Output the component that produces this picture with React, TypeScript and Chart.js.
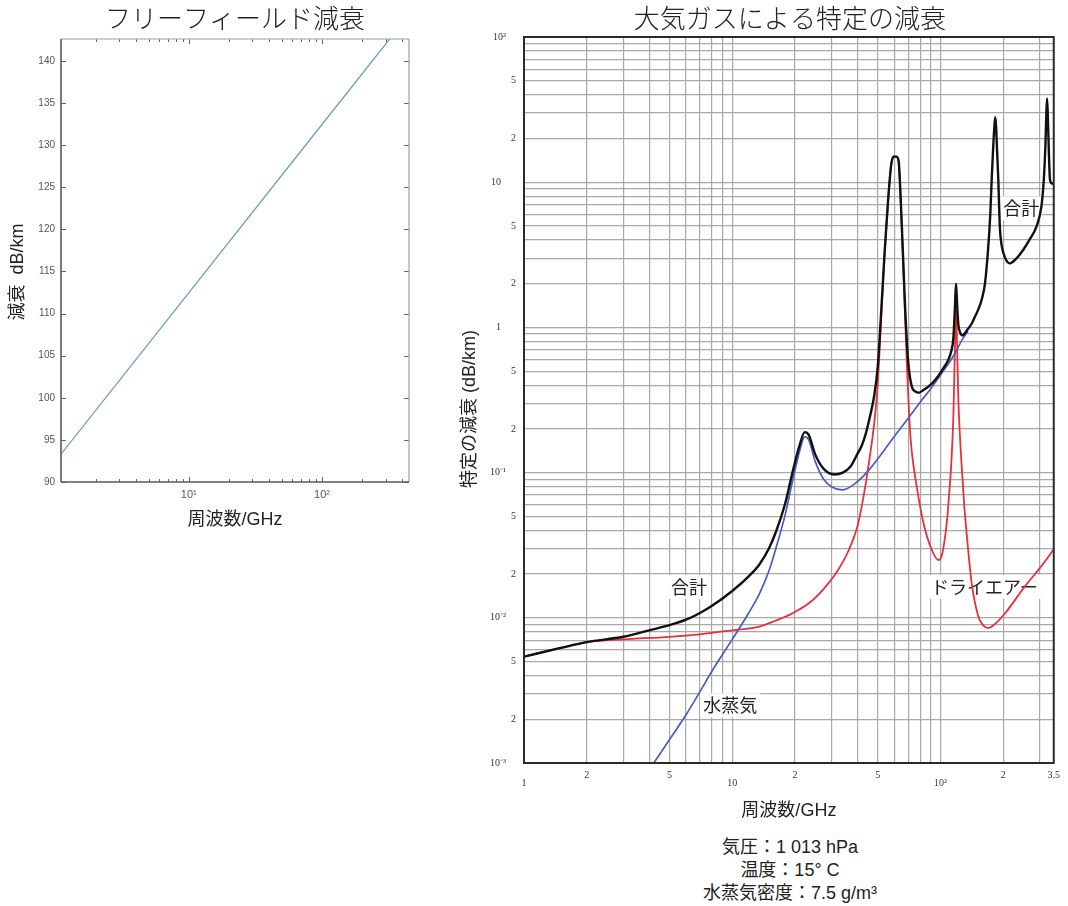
import React, { useEffect, useRef } from "react";
import { Chart, registerables } from "chart.js";
Chart.register(...registerables);

// ---------- Left chart: free-field attenuation ----------
const freeFreqGHz = [1.1, 10, 100, 330];
const freeLossDb = [93.3, 112.45, 132.45, 142.8];
const freeYTicks = [90, 95, 100, 105, 110, 115, 120, 125, 130, 135, 140];
const freeXTicks = [2, 3, 4, 5, 6, 7, 8, 9, 10, 20, 30, 40, 50, 60, 70, 80, 90, 100, 200, 300, 400];
const freeXLabelValues = [10, 100];
const freeXLabelTexts = ["10¹", "10²"];
const freeTitle = "フリーフィールド減衰";
const freeYTitle = "減衰  dB/km";
const freeXTitle = "周波数/GHz";

// ---------- Right chart: specific attenuation by atmospheric gases ----------
const totalFreq = [
  1, 1.5, 2, 3, 4, 5, 6, 7, 8, 10,
  12, 13.5, 15, 16.2, 18, 19.4, 21, 22.3, 23.3, 25,
  27.5, 31, 34, 37, 40, 42, 44, 46, 48, 50,
  52, 54, 56, 58, 59.5, 61.5, 63, 64.2, 65.3, 66.5,
  67.8, 69, 70.3, 72.9, 75, 78.5, 82.9, 90.9, 97.8, 103,
  109.2, 112.5, 115.4, 117.3, 118.75, 120.2, 121.9, 124, 127.4, 133.6,
  141.2, 146.6, 152, 157.7, 163.6, 169.7, 173.5, 176.2, 179, 181.5,
  183.3, 185, 187.2, 189.6, 191.5, 193.2, 196.5, 200.8, 207, 215.4,
  230, 249.5, 270, 289, 305.3, 313.5, 319, 322.5, 325, 327.5,
  331, 335.8, 343.5, 350,
];
const totalAtt = [
  0.0054, 0.0062, 0.0068, 0.0074, 0.0082, 0.0089, 0.0097, 0.0108, 0.0121, 0.0153,
  0.0193, 0.0233, 0.03, 0.039, 0.062, 0.098, 0.152, 0.19, 0.182, 0.134,
  0.106, 0.097, 0.1, 0.11, 0.135, 0.155, 0.19, 0.248, 0.335, 0.54,
  1.33, 3.4, 7.4, 13.2, 15.0, 15.0, 13.9, 8.6, 4.8, 2.5,
  1.28, 0.78, 0.54, 0.39, 0.365, 0.355, 0.37, 0.41, 0.465, 0.52,
  0.6, 0.68, 0.85, 1.35, 2.0, 1.45, 1.04, 0.93, 0.88, 0.95,
  1.06, 1.19, 1.33, 1.55, 2.0, 3.6, 6.0, 10.4, 17, 24,
  28, 24, 16, 10.4, 6.5, 4.69, 3.7, 3.24, 2.9, 2.76,
  2.95, 3.41, 4.1, 4.94, 6.8, 10.4, 17.5, 30, 37.8, 30,
  17.5, 10.4, 9.8, 9.8,
];

const dryFreq = [
  1, 1.5, 2, 3, 5, 7, 10, 13.5, 16, 19.4,
  24, 28.1, 32, 36.3, 40, 42, 44, 46, 48, 50,
  52, 54, 56, 58, 59.5, 61.5, 63, 64.2, 65.3, 66.5,
  67.8, 69, 70.3, 71.5, 73, 76.9, 82.9, 90.9, 97.8, 101.5,
  105.2, 108, 110, 112.5, 115.4, 117.3, 118.75, 120.2, 121.9, 124,
  126.5, 130, 133.6, 141.2, 152, 160, 169.7, 180, 204, 230,
  254, 300, 350,
];
const dryAtt = [
  0.0054, 0.0062, 0.0068, 0.0071, 0.0074, 0.0077, 0.0082, 0.0087, 0.0095, 0.0107,
  0.013, 0.0164, 0.021, 0.0293, 0.043, 0.06, 0.088, 0.135, 0.215, 0.41,
  1.2, 3.3, 7.3, 13.1, 15.0, 15.0, 13.8, 8.4, 4.6, 2.3,
  1.05, 0.55, 0.3, 0.19, 0.135, 0.08, 0.0448, 0.0293, 0.025, 0.027,
  0.036, 0.05, 0.07, 0.11, 0.25, 0.7, 1.32, 0.75, 0.316, 0.18,
  0.11, 0.06, 0.038, 0.0173, 0.0102, 0.0089, 0.0085, 0.0089, 0.0107, 0.0135,
  0.0164, 0.022, 0.0296,
];

const vaporFreq = [
  4.2, 5, 6, 7, 8, 10, 12, 13.5, 15, 16.2,
  18, 19.4, 21, 22.3, 23.3, 25, 27.5, 30, 33.7, 38,
  45.3, 60, 70, 81.4, 90, 100, 115, 128.3, 135,
];
const vaporAtt = [
  0.001, 0.00145, 0.00215, 0.0031, 0.0043, 0.0071, 0.0108, 0.0146, 0.021, 0.03,
  0.052, 0.085, 0.138, 0.176, 0.168, 0.12, 0.09, 0.08, 0.076, 0.082,
  0.104, 0.177, 0.237, 0.316, 0.38, 0.47, 0.63, 0.84, 0.93,
];

const gasXGrid = [1, 2, 3, 4, 5, 6, 7, 8, 9, 10, 20, 30, 40, 50, 60, 70, 80, 90, 100, 200, 300, 350];
const gasXLabelValues = [1, 2, 5, 10, 20, 50, 100, 200, 350];
const gasXLabelTexts = ["1", "2", "5", "10", "2", "5", "10²", "2", "3.5"];
const gasXLowered = [1, 10, 100];
const gasYDecades = [0.001, 0.01, 0.1, 1, 10, 100];
const gasYGrid = gasYDecades.flatMap((d) =>
  d === 100 ? [100] : [1, 2, 3, 4, 5, 6, 7, 8, 9].map((m) => +(m * d).toPrecision(3))
);
const gasYLabelValues = [0.001, 0.002, 0.005, 0.01, 0.02, 0.05, 0.1, 0.2, 0.5, 1, 2, 5, 10, 20, 50, 100];
const gasYLabelTexts = ["10⁻³", "2", "5", "10⁻²", "2", "5", "10⁻¹", "2", "5", "1", "2", "5", "10", "2", "5", "10²"];

const curveLabels = ["合計", "合計", "ドライエアー", "水蒸気"];
const curveLabelFreq = [6.2, 244, 162.5, 9.78];
const curveLabelAtt = [0.0163, 6.6, 0.0163, 0.0025];

const gasTitle = "大気ガスによる特定の減衰";
const gasYTitle = "特定の減衰 (dB/km)";
const gasXTitle = "周波数/GHz";
const notes = ["気圧：1 013 hPa", "温度：15° C", "水蒸気密度：7.5 g/m³"];

// ---------- helpers ----------
const CJK = '"Noto Sans CJK JP", sans-serif';
const SANS = '"Liberation Sans", "Noto Sans CJK JP", sans-serif';
const pts = (xs: number[], ys: number[]) => xs.map((x, i) => ({ x, y: ys[i] }));
const near = (a: number, b: number) => Math.abs(a - b) <= Math.abs(b) * 1e-6;
const findLabel = (v: number, values: number[], texts: string[]) => {
  const i = values.findIndex((lv) => near(Number(v), lv));
  return i < 0 ? null : texts[i];
};

const freeDecor = {
  id: "freeDecor",
  afterDraw(chart: any) {
    const { ctx, chartArea: a, scales } = chart;
    ctx.save();
    const line = (x1: number, y1: number, x2: number, y2: number) => {
      ctx.beginPath();
      ctx.moveTo(x1, y1);
      ctx.lineTo(x2, y2);
      ctx.stroke();
    };
    ctx.strokeStyle = "#666";
    ctx.lineWidth = 1;
    for (const v of freeYTicks) {
      const y = Math.round(scales.y.getPixelForValue(v)) + 0.5;
      line(a.left, y, a.left + 5, y);
      line(a.right - 5, y, a.right, y);
    }
    for (const v of freeXTicks) {
      const x = Math.round(scales.x.getPixelForValue(v)) + 0.5;
      const len = freeXLabelValues.includes(v) ? 5 : 3;
      line(x, a.bottom, x, a.bottom - len);
      line(x, a.top, x, a.top + len);
    }
    ctx.strokeStyle = "#a0a0a0";
    ctx.lineWidth = 1.2;
    line(a.left, a.top, a.right, a.top);
    line(a.right, a.top, a.right, a.bottom);
    ctx.strokeStyle = "#5a5a5a";
    ctx.lineWidth = 1.6;
    line(a.left, a.top, a.left, a.bottom);
    line(a.left, a.bottom, a.right, a.bottom);

    const cx = (a.left + a.right) / 2;
    ctx.fillStyle = "#222";
    ctx.textAlign = "center";
    ctx.textBaseline = "middle";
    ctx.font = `300 26px ${CJK}`;
    ctx.fillText(freeTitle, cx, 18);
    ctx.font = `18px ${SANS}`;
    ctx.fillText(freeXTitle, cx, a.bottom + 38);
    ctx.translate(18, 272);
    ctx.rotate(-Math.PI / 2);
    ctx.fillText(freeYTitle, 0, 0);
    ctx.restore();
  },
};

const gasDecor = {
  id: "gasDecor",
  beforeDatasetsDraw(chart: any) {
    const { ctx, scales } = chart;
    ctx.save();
    ctx.font = `18px ${CJK}`;
    ctx.textAlign = "center";
    ctx.textBaseline = "middle";
    curveLabels.forEach((t, i) => {
      const x = scales.x.getPixelForValue(curveLabelFreq[i]);
      const y = scales.y.getPixelForValue(curveLabelAtt[i]);
      const w = ctx.measureText(t).width;
      ctx.fillStyle = "#fff";
      ctx.fillRect(x - w / 2 - 3, y - 12, w + 6, 24);
      ctx.fillStyle = "#222";
      ctx.fillText(t, x, y);
    });
    ctx.restore();
  },
  afterDraw(chart: any) {
    const { ctx, chartArea: a } = chart;
    ctx.save();
    ctx.strokeStyle = "#2b2b2b";
    ctx.lineWidth = 2;
    ctx.strokeRect(a.left, a.top, a.right - a.left, a.bottom - a.top);
    const cx = (a.left + a.right) / 2;
    ctx.fillStyle = "#222";
    ctx.textAlign = "center";
    ctx.textBaseline = "middle";
    ctx.font = `300 26px ${CJK}`;
    ctx.fillText(gasTitle, cx + 1, 18);
    ctx.font = `18px ${SANS}`;
    ctx.fillText(gasXTitle, cx, a.bottom + 48);
    ctx.translate(a.left - 54, (a.top + a.bottom) / 2 + 9);
    ctx.rotate(-Math.PI / 2);
    ctx.fillText(gasYTitle, 0, 0);
    ctx.restore();
  },
};

export default function App() {
  const leftRef = useRef<HTMLCanvasElement>(null);
  const rightRef = useRef<HTMLCanvasElement>(null);

  useEffect(() => {
    const freeChart = new Chart(leftRef.current as HTMLCanvasElement, {
      type: "line",
      data: {
        datasets: [
          {
            label: freeTitle,
            data: pts(freeFreqGHz, freeLossDb),
            borderColor: "#6c9fb6",
            borderWidth: 1.3,
            pointRadius: 0,
            tension: 0,
          },
        ],
      },
      options: {
        responsive: false,
        animation: false,
        devicePixelRatio: 1,
        layout: { padding: { top: 39, right: 31, left: 0, bottom: 0 } },
        plugins: { legend: { display: false }, tooltip: { enabled: false } },
        scales: {
          x: {
            type: "logarithmic",
            min: 1.1,
            max: 450,
            afterBuildTicks: (s: any) => {
              s.ticks = freeXTicks.map((v) => ({ value: v }));
            },
            afterFit: (s: any) => {
              s.height = 58;
            },
            grid: { display: false, drawTicks: false },
            border: { display: false },
            ticks: {
              autoSkip: false,
              maxRotation: 0,
              minRotation: 0,
              padding: 6,
              color: "#555",
              font: { family: "Liberation Sans", size: 11 },
              callback: (v: any) => findLabel(v, freeXLabelValues, freeXLabelTexts) ?? "",
            },
          },
          y: {
            type: "linear",
            min: 90,
            max: 142.6,
            afterBuildTicks: (s: any) => {
              s.ticks = freeYTicks.map((v) => ({ value: v }));
            },
            afterFit: (s: any) => {
              s.width = 61;
            },
            grid: { display: false, drawTicks: false },
            border: { display: false },
            ticks: {
              padding: 6,
              color: "#555",
              font: { family: "Liberation Sans", size: 10 },
              callback: (v: any) => String(v),
            },
          },
        },
      },
      plugins: [freeDecor],
    } as any);

    const gasChart = new Chart(rightRef.current as HTMLCanvasElement, {
      type: "line",
      data: {
        datasets: [
          {
            label: "合計",
            data: pts(totalFreq, totalAtt),
            borderColor: "#111111",
            borderWidth: 2.4,
          },
          {
            label: "水蒸気",
            data: pts(vaporFreq, vaporAtt),
            borderColor: "#4a5cc0",
            borderWidth: 1.7,
          },
          {
            label: "ドライエアー",
            data: pts(dryFreq, dryAtt),
            borderColor: "#e8303c",
            borderWidth: 1.8,
          },
        ],
      },
      options: {
        responsive: false,
        animation: false,
        devicePixelRatio: 1,
        layout: { padding: { top: 37, right: 13, left: 0, bottom: 0 } },
        elements: {
          point: { radius: 0 },
          line: { cubicInterpolationMode: "monotone", borderJoinStyle: "round", borderCapStyle: "round" },
        },
        plugins: { legend: { display: false }, tooltip: { enabled: false } },
        scales: {
          x: {
            type: "logarithmic",
            min: 1,
            max: 350,
            afterBuildTicks: (s: any) => {
              s.ticks = gasXGrid.map((v) => ({ value: v }));
            },
            afterFit: (s: any) => {
              s.height = 67;
            },
            grid: { color: "#a8a8a8", lineWidth: 1.2, drawTicks: false },
            border: { display: false },
            ticks: {
              autoSkip: false,
              maxRotation: 0,
              minRotation: 0,
              padding: 8,
              color: "#333",
              font: { family: "Liberation Serif", size: 10, lineHeight: 0.8 },
              callback: (v: any) => {
                const t = findLabel(v, gasXLabelValues, gasXLabelTexts);
                if (t === null) return "";
                return gasXLowered.some((lv) => near(Number(v), lv)) ? ["", t] : t;
              },
            },
          },
          y: {
            type: "logarithmic",
            min: 0.001,
            max: 100,
            afterBuildTicks: (s: any) => {
              s.ticks = gasYGrid.map((v) => ({ value: v }));
            },
            afterFit: (s: any) => {
              s.width = 84;
            },
            grid: { color: "#a8a8a8", lineWidth: 1.2, drawTicks: false },
            border: { display: false },
            ticks: {
              autoSkip: false,
              padding: 8,
              color: "#333",
              font: { family: "Liberation Serif", size: 10 },
              callback: (v: any) => {
                const t = findLabel(v, gasYLabelValues, gasYLabelTexts);
                if (t === null) return "";
                if (gasYDecades.some((d) => near(Number(v), d))) {
                  return /[⁻²]/.test(t) ? t + "\u2002\u2002" : t + "\u2002\u2002\u2002";
                }
                return t;
              },
            },
          },
        },
      },
      plugins: [gasDecor],
    } as any);

    return () => {
      freeChart.destroy();
      gasChart.destroy();
    };
  }, []);

  return (
    <div
      style={{
        position: "absolute",
        left: 0,
        top: 0,
        width: 1068,
        height: 906,
        background: "#fff",
        overflow: "hidden",
      }}
    >
      <canvas ref={leftRef} width={440} height={540} style={{ position: "absolute", left: 0, top: 0 }} />
      <canvas ref={rightRef} width={628} height={830} style={{ position: "absolute", left: 440, top: 0 }} />
      <div
        style={{
          position: "absolute",
          left: 590,
          top: 836,
          width: 400,
          textAlign: "center",
          font: `18px ${SANS}`,
          lineHeight: "23px",
          color: "#222",
        }}
      >
        {notes.map((n) => (
          <div key={n}>{n}</div>
        ))}
      </div>
    </div>
  );
}
